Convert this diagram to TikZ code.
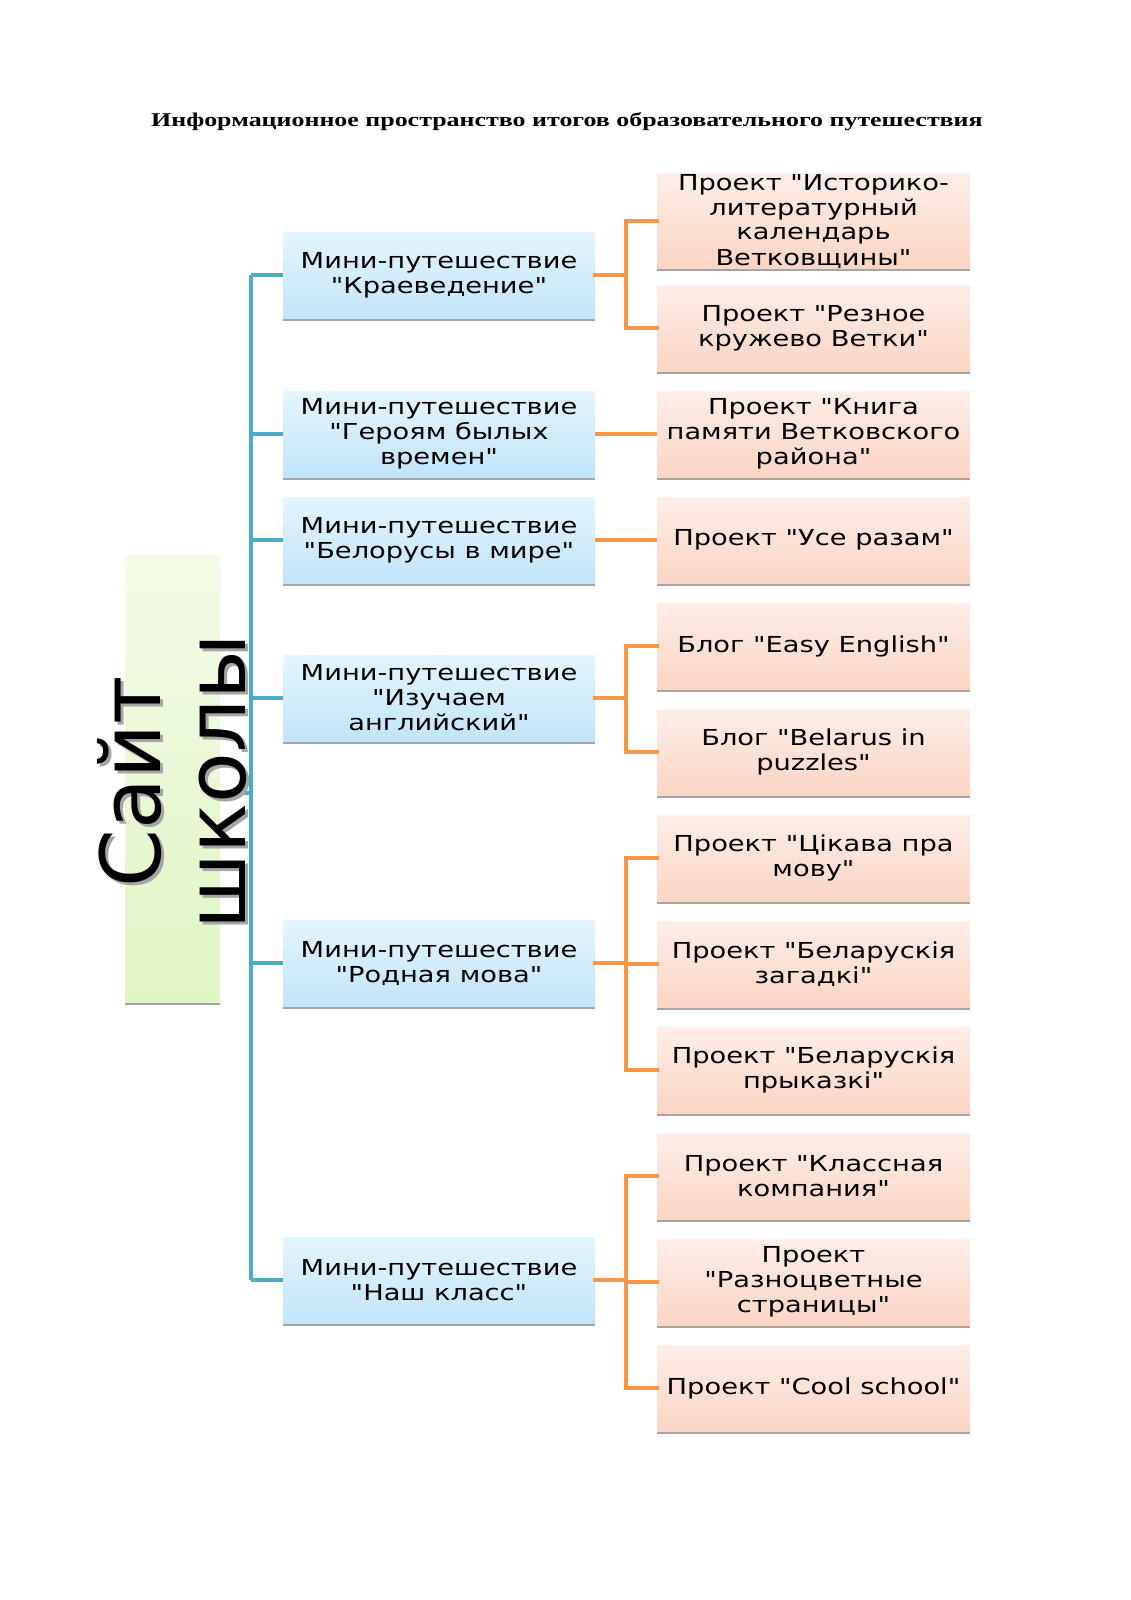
\documentclass[tikz,border=0pt]{standalone}
\usepackage{fontspec}
\setmainfont{DejaVu Sans}[Ligatures=TeXOff]
\newfontfamily\boxfont{DejaVu Sans}[Ligatures=TeXOff, FakeStretch=1.24]
\newfontfamily\titlefont{Liberation Serif}[FakeStretch=1.33]
\usetikzlibrary{shadows}
\definecolor{lineblue}{HTML}{4BACC6}
\definecolor{lineorange}{HTML}{F79646}
\definecolor{bluetop}{HTML}{E4F5FD}
\definecolor{bluebot}{HTML}{C2E5F8}
\definecolor{orangetop}{HTML}{FDEEE8}
\definecolor{orangebot}{HTML}{FBD5C5}
\definecolor{greentop}{HTML}{F4FBE8}
\definecolor{greenbot}{HTML}{E0F5C4}
\definecolor{shadowgrey}{HTML}{A5A5A5}
\tikzset{
  boxbase/.style={minimum height=86pt, inner sep=0pt, align=center,
    font=\boxfont\fontsize{22}{25}\selectfont,
    drop shadow={shadow xshift=0pt, shadow yshift=-3pt, fill=shadowgrey, opacity=1}},
  minibox/.style={boxbase, minimum width=312pt, top color=bluetop, bottom color=bluebot},
  projbox/.style={boxbase, minimum width=313pt, top color=orangetop, bottom color=orangebot},
  sitebox/.style={minimum width=95pt, minimum height=447pt, inner sep=0pt,
    top color=greentop, bottom color=greenbot,
    drop shadow={shadow xshift=0pt, shadow yshift=-3pt, fill=shadowgrey, opacity=1}},
  bluelink/.style={draw=lineblue, line width=3.5pt},
  orangelink/.style={draw=lineorange, line width=3.5pt},
  bigtext/.style={rotate=90, align=center, inner sep=0pt, font=\fontsize{83}{85}\selectfont}
}
\begin{document}
\begin{tikzpicture}[x=1pt,y=-1pt]
\fill[white] (0,0) rectangle (1130,1600);

\node[font=\titlefont\bfseries\fontsize{19.5}{22}\selectfont, anchor=base, inner sep=0pt] (title) at (567,127) {Информационное пространство итогов образовательного путешествия};

% left green box
\node[sitebox] (site) at (172.5,778.5) {};

% mini boxes
\node[minibox] (m1) at (439,275) {Мини-путешествие\\"Краеведение"};
\node[minibox] (m2) at (439,434) {Мини-путешествие\\"Героям былых\\времен"};
\node[minibox] (m3) at (439,540) {Мини-путешествие\\"Белорусы в мире"};
\node[minibox] (m4) at (439,698) {Мини-путешествие\\"Изучаем\\английский"};
\node[minibox] (m5) at (439,963) {Мини-путешествие\\"Родная мова"};
\node[minibox] (m6) at (439,1280) {Мини-путешествие\\"Наш класс"};

% project boxes
\node[projbox] (p1) at (813.5,221) {Проект "Историко-\\литературный\\календарь\\Ветковщины"};
\node[projbox] (p2) at (813.5,328) {Проект "Резное\\кружево Ветки"};
\node[projbox] (p3) at (813.5,434) {Проект "Книга\\памяти Ветковского\\района"};
\node[projbox] (p4) at (813.5,540) {Проект "Усе разам"};
\node[projbox] (p5) at (813.5,646) {Блог "Easy English"};
\node[projbox] (p6) at (813.5,752) {Блог "Belarus in\\puzzles"};
\node[projbox] (p7) at (813.5,858) {Проект "Цікава пра\\мову"};
\node[projbox] (p8) at (813.5,964) {Проект "Беларускія\\загадкі"};
\node[projbox] (p9) at (813.5,1070) {Проект "Беларускія\\прыказкі"};
\node[projbox] (p10) at (813.5,1176) {Проект "Классная\\компания"};
\node[projbox] (p11) at (813.5,1282) {Проект\\"Разноцветные\\страницы"};
\node[projbox] (p12) at (813.5,1388) {Проект "Cool school"};

% trunk
\coordinate (trtop) at (251,275);
\coordinate (trbot) at (251,1280);
\coordinate (trsite) at (251,793);
\draw[bluelink] (trtop) -- (trbot);
\foreach \m in {m1,m2,m3,m4,m5,m6}{
  \draw[bluelink] (\m.west -| trtop) -- (\m.west);
}
\draw[bluelink] (site.east |- trsite) -- (trsite);

% orange connectors
\newcommand{\bracketlink}[2]{%
  \foreach \p in {#2}{
    \draw[orangelink, line cap=rect] (#1.east) -- ++(31,0) |- (\p.west);
  }%
}
\bracketlink{m1}{p1,p2}
\draw[orangelink] (m2.east) -- (p3.west);
\draw[orangelink] (m3.east) -- (p4.west);
\bracketlink{m4}{p5,p6}
\bracketlink{m5}{p7,p8,p9}
\bracketlink{m6}{p10,p11,p12}

% big rotated text with shadow
\node[bigtext, text=shadowgrey] (sitetextshadow) at (175,785) {Сайт\\школы};
\node[bigtext] (sitetext) at (172,782) {Сайт\\школы};

\pgfresetboundingbox
\path[use as bounding box] (0,0) rectangle (1130,1600);
\end{tikzpicture}
\end{document}
